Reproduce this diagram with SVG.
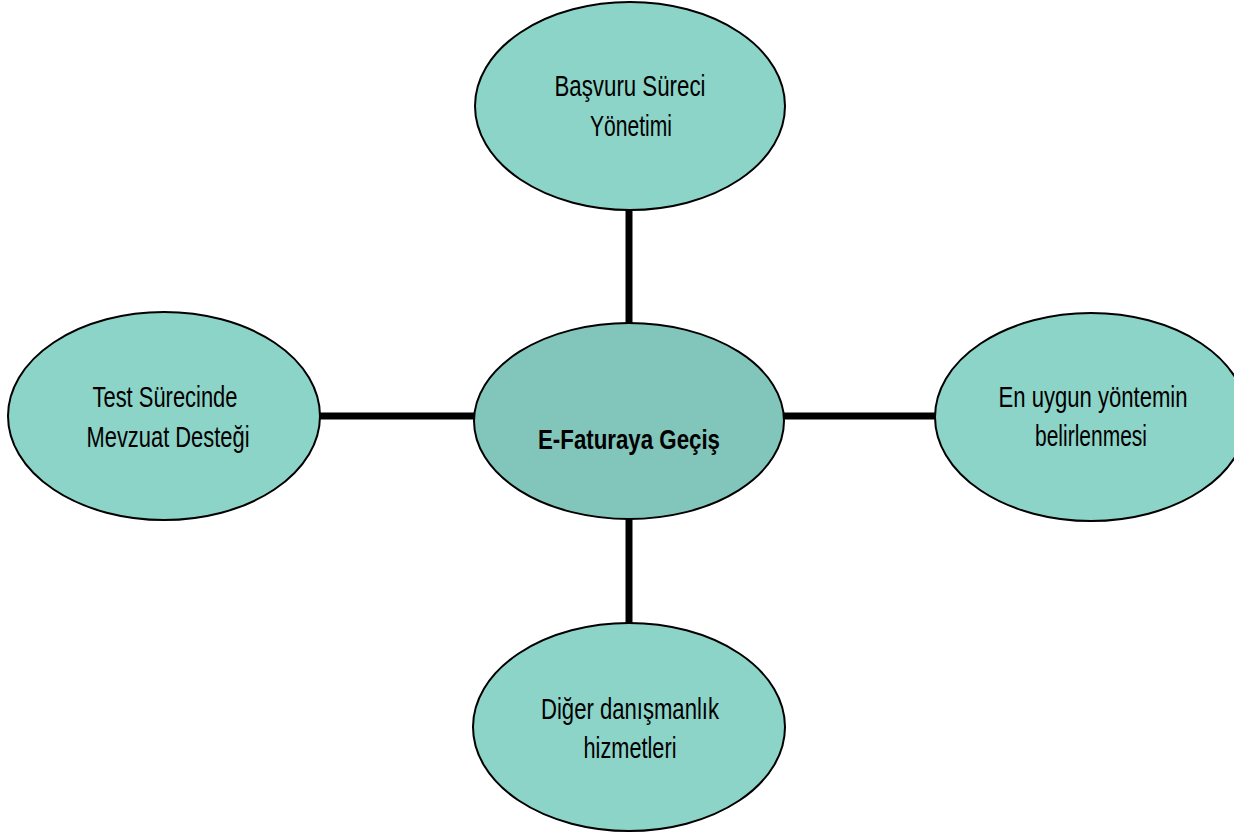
<svg xmlns="http://www.w3.org/2000/svg" width="1234" height="832" viewBox="0 0 1234 832">
<style>
.node{fill:#8DD4C8;stroke:#000;stroke-width:2}
.hub{fill:#82C5BA;stroke:#000;stroke-width:2}
.edge{stroke:#000;stroke-width:7;fill:none}
text{font-family:"Liberation Sans Narrow","Liberation Sans",Arial,sans-serif;font-size:29px;fill:#000;text-anchor:middle}
.bold{font-weight:bold;font-size:28px}
</style>
<rect width="1234" height="832" fill="#fff"/>
<g id="connectors">
<line class="edge" x1="629" y1="208" x2="629" y2="325"/>
<line class="edge" x1="629" y1="518" x2="629" y2="625"/>
<line class="edge" x1="318" y1="416" x2="476" y2="416"/>
<line class="edge" x1="782" y1="416" x2="937" y2="416"/>
</g>
<g id="top">
<ellipse class="node" cx="630" cy="106" rx="155" ry="104"/>
<text x="630" y="96" textLength="151" lengthAdjust="spacingAndGlyphs">Başvuru Süreci</text>
<text x="631" y="136" textLength="82" lengthAdjust="spacingAndGlyphs">Yönetimi</text>
</g>
<g id="left">
<ellipse class="node" cx="164" cy="416" rx="156" ry="104"/>
<text x="165" y="407" textLength="145" lengthAdjust="spacingAndGlyphs">Test Sürecinde</text>
<text x="168" y="447" textLength="163" lengthAdjust="spacingAndGlyphs">Mevzuat Desteği</text>
</g>
<g id="right">
<ellipse class="node" cx="1091" cy="417" rx="156" ry="104"/>
<text x="1093" y="407" textLength="189" lengthAdjust="spacingAndGlyphs">En uygun yöntemin</text>
<text x="1091" y="446" textLength="112" lengthAdjust="spacingAndGlyphs">belirlenmesi</text>
</g>
<g id="bottom">
<ellipse class="node" cx="629" cy="727" rx="156" ry="104"/>
<text x="630" y="719" textLength="178" lengthAdjust="spacingAndGlyphs">Diğer danışmanlık</text>
<text x="630" y="758" textLength="93" lengthAdjust="spacingAndGlyphs">hizmetleri</text>
</g>
<g id="center">
<ellipse class="hub" cx="629" cy="421" rx="155" ry="98"/>
<text class="bold" x="629" y="449" textLength="182" lengthAdjust="spacingAndGlyphs">E-Faturaya Geçiş</text>
</g>
</svg>
